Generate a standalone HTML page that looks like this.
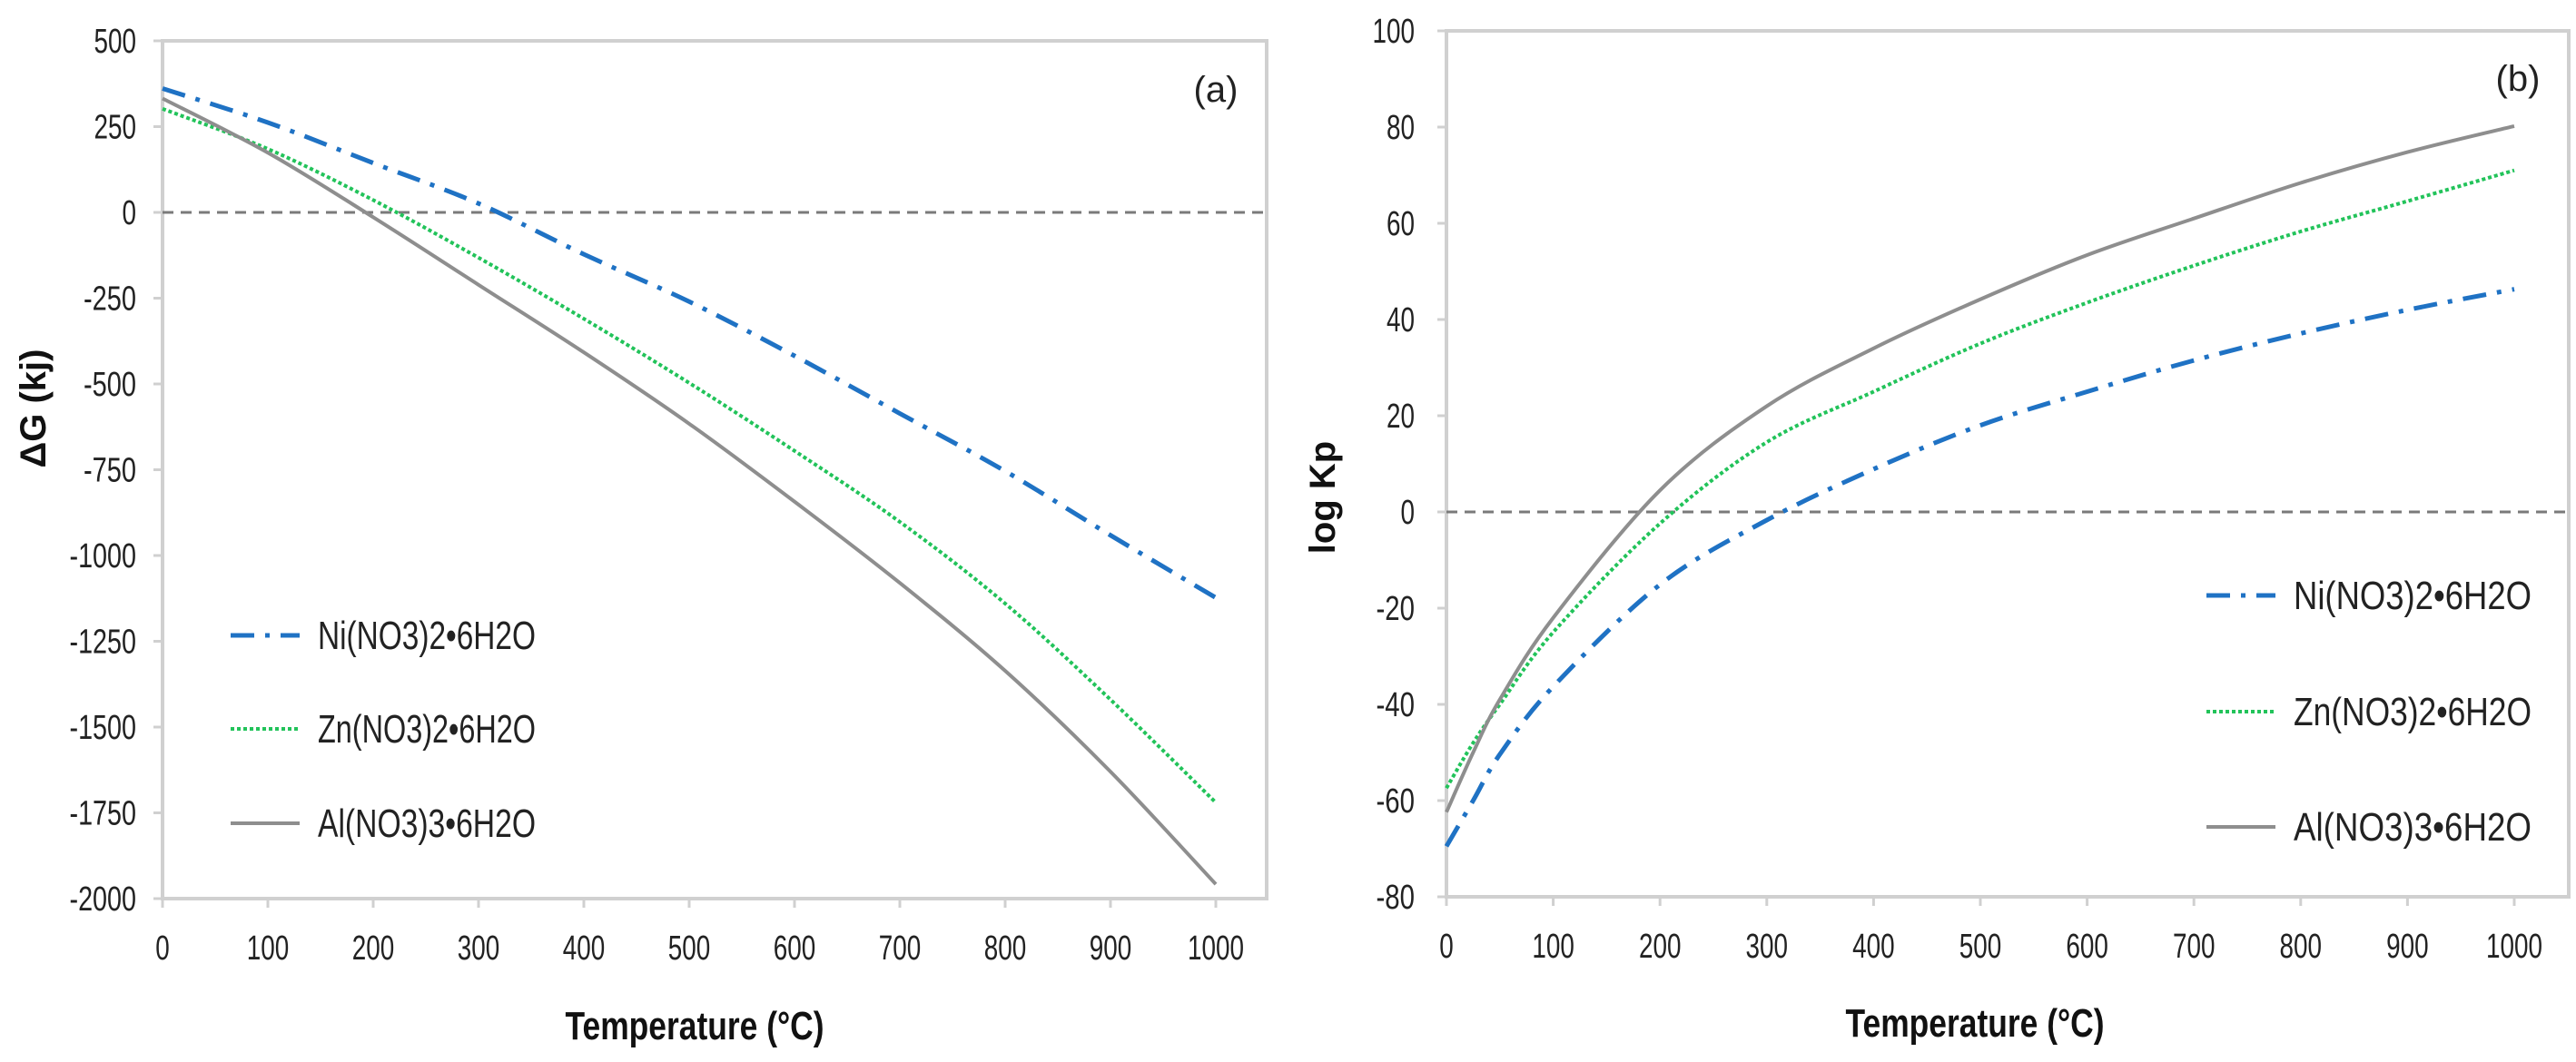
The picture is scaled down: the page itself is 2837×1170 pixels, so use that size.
<!DOCTYPE html>
<html><head><meta charset="utf-8"><style>
html,body{margin:0;padding:0;background:#fff;}
svg{display:block;font-family:"Liberation Sans Narrow","Liberation Sans",sans-serif;}
</style></head><body>
<svg id="fig" width="2837" height="1170" viewBox="0 0 2837 1170"></svg>
<script>
// ---- Chart (a) data ----
const tempsA = [0,100,200,300,400,500,600,700,800,900,1000];
const niG = [361,262,144,26,-122,-260,-418,-586,-754,-941,-1123];
const znG = [302,185,36,-132,-310,-497,-695,-902,-1140,-1420,-1720];
const alG = [332,174,-14,-211,-408,-616,-843,-1080,-1336,-1630,-1958];
const yTicksA = [500,250,0,-250,-500,-750,-1000,-1250,-1500,-1750,-2000];
// ---- Chart (b) data ----
const tempsB = [0,25,50,100,200,300,400,500,600,700,800,900,1000];
const niK = [-69.5,-60,-50.4,-36.3,-15.1,-1.7,8.9,18,25,31.5,37.1,42,46.3];
const znK = [-57.4,-48,-40,-25,-2.4,14.5,25,35,43.5,51.2,58.3,64.6,71];
const alK = [-62.4,-50,-39,-22,4.5,22,34,44.2,53.4,61,68.4,74.8,80.2];
const yTicksB = [100,80,60,40,20,0,-20,-40,-60,-80];
const xTicks = [0,100,200,300,400,500,600,700,800,900,1000];
const seriesNames = ["Ni(NO3)2•6H2O","Zn(NO3)2•6H2O","Al(NO3)3•6H2O"];

const NS="http://www.w3.org/2000/svg";
const svg=document.getElementById('fig');
function mk(tag,attrs,parent){const e=document.createElementNS(NS,tag);for(const k in attrs)e.setAttribute(k,attrs[k]);(parent||svg).appendChild(e);return e;}
const styles=[
 {stroke:'#1f72c4',w:5,dash:'26 12 5 12'},
 {stroke:'#22c35a',w:4,dash:'4 3'},
 {stroke:'#8e8e8e',w:4,dash:''}
];
function smooth(pts){
  let d='M'+pts[0][0]+','+pts[0][1];
  for(let i=0;i<pts.length-1;i++){
    const p0=pts[Math.max(0,i-1)],p1=pts[i],p2=pts[i+1],p3=pts[Math.min(pts.length-1,i+2)];
    const c1x=p1[0]+(p2[0]-p0[0])/6,c1y=p1[1]+(p2[1]-p0[1])/6;
    const c2x=p2[0]-(p3[0]-p1[0])/6,c2y=p2[1]-(p3[1]-p1[1])/6;
    d+=' C'+c1x+','+c1y+' '+c2x+','+c2y+' '+p2[0]+','+p2[1];
  }
  return d;
}
function chart(cfg){
  const g=mk('g',{});
  
  
  const xs=v=>cfg.x0+(v-0)/1000*(cfg.x1-cfg.x0);
  const ys=v=>cfg.yTop+(cfg.yMax-v)/(cfg.yMax-cfg.yMin)*(cfg.yBot-cfg.yTop);
  const frame=mk('rect',{x:cfg.x0,y:cfg.yTop,width:cfg.right-cfg.x0,height:cfg.yBot-cfg.yTop,fill:'none',stroke:'#d0d0d0','stroke-width':4},g);
  
  
  cfg.yTicks.forEach(t=>{
    const y=ys(t);
    const tk=mk('line',{x1:cfg.x0-10,x2:cfg.x0,y1:y,y2:y,stroke:'#d0d0d0','stroke-width':3},g);
    
    
    const s=String(t);
    const tx=mk('text',{x:cfg.labR,y:y+13,'text-anchor':'end','font-size':38,fill:'#222',textLength:s.length*15.5-(t<0?4:0),lengthAdjust:'spacingAndGlyphs'},g);
    tx.textContent=s;
    
    
  });
  xTicks.forEach(t=>{
    const x=xs(t);
    const tk=mk('line',{x1:x,x2:x,y1:cfg.yBot,y2:cfg.yBot+10,stroke:'#d0d0d0','stroke-width':3},g);
    
    
    const s=String(t);
    const tx=mk('text',{x:x,y:cfg.yBot+67,'text-anchor':'middle','font-size':38,fill:'#222',textLength:s.length*15.5,lengthAdjust:'spacingAndGlyphs'},g);
    tx.textContent=s;
    
    
  });
  const zl=mk('line',{x1:cfg.x0,x2:cfg.right,y1:ys(0),y2:ys(0),stroke:'#7a7a7a','stroke-width':3,'stroke-dasharray':'12 8'},g);
  
  
  cfg.series.forEach((vals,i)=>{
    const pts=cfg.temps.map((t,j)=>[xs(t),ys(vals[j])]);
    const p=mk('path',{d:smooth(pts),fill:'none',stroke:styles[i].stroke,'stroke-width':styles[i].w,'stroke-dasharray':styles[i].dash},g);
    
    
    const ly=cfg.legY[i];
    const ll=mk('line',{x1:cfg.legX,x2:cfg.legX+76,y1:ly,y2:ly,stroke:styles[i].stroke,'stroke-width':styles[i].w,'stroke-dasharray':styles[i].dash},g);
    
    
    const lt=mk('text',{x:cfg.legX+96,y:ly+15,'font-size':44,fill:'#222',textLength:cfg.legW,lengthAdjust:'spacingAndGlyphs'},g);
    lt.textContent=seriesNames[i];
    
    
  });
  const pl=mk('text',{x:cfg.panel[0],y:cfg.panel[1],'text-anchor':'middle','font-size':40,fill:'#222'},g);
  pl.textContent=cfg.panelText;
  
  
  const xt=mk('text',{x:cfg.xTitle[0],y:cfg.xTitle[1],'text-anchor':'middle','font-size':44,'font-weight':'bold',fill:'#111',textLength:285,lengthAdjust:'spacingAndGlyphs'},g);
  xt.textContent='Temperature (°C)';
  
  
  const yt=mk('text',{x:0,y:0,'text-anchor':'middle','font-size':40,'font-weight':'bold',fill:'#111',transform:'translate('+cfg.yTitle[0]+','+cfg.yTitle[1]+') rotate(-90)'},g);
  yt.textContent=cfg.yTitleText;
  
  
}
chart({name:'chart-a-delta-g',x0:179,x1:1339,right:1395,yTop:45,yBot:990,yMax:500,yMin:-2000,
  yTicks:yTicksA,labR:150,temps:tempsA,series:[niG,znG,alG],legX:254,legY:[700,803,907],legW:240,
  panel:[1339,112],panelText:'(a)',xTitle:[765,1145],yTitle:[50,450],yTitleText:'ΔG (kj)'});
chart({name:'chart-b-log-kp',x0:1593,x1:2769,right:2829,yTop:34,yBot:988,yMax:100,yMin:-80,
  yTicks:yTicksB,labR:1558,temps:tempsB,series:[niK,znK,alK],legX:2430,legY:[656,784,911],legW:262,
  panel:[2773,100],panelText:'(b)',xTitle:[2175,1142],yTitle:[1470,548],yTitleText:'log Kp'});
</script>
</body></html>
